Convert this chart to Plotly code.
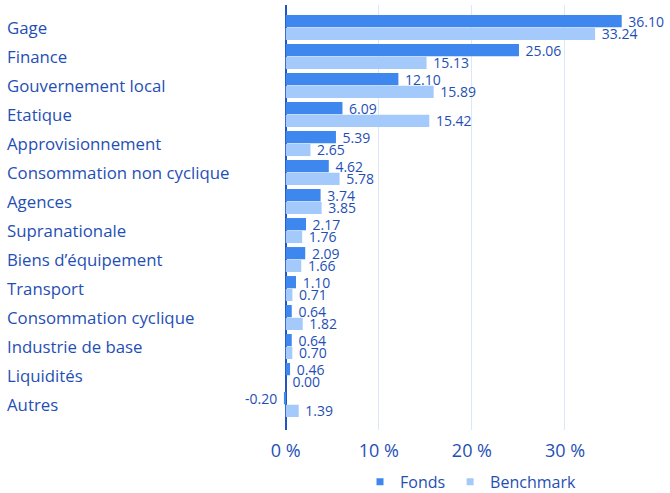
import plotly.graph_objects as go

categories = ["Gage", "Finance", "Gouvernement local", "Etatique", "Approvisionnement",
              "Consommation non cyclique", "Agences", "Supranationale", "Biens d’équipement",
              "Transport", "Consommation cyclique", "Industrie de base", "Liquidités", "Autres"]
fonds = [36.10, 25.06, 12.10, 6.09, 5.39, 4.62, 3.74, 2.17, 2.09, 1.10, 0.64, 0.64, 0.46, -0.20]
benchmark = [33.24, 15.13, 15.89, 15.42, 2.65, 5.78, 3.85, 1.76, 1.66, 0.71, 1.82, 0.70, 0.00, 1.39]
tick_vals = [0, 10, 20, 30]
tick_text = ["0 %", "10 %", "20 %", "30 %"]

TXT = "#1f4fb5"
FONT = "Open Sans"
C_FONDS = "#3d87ef"
C_BENCH = "#a4cafb"


def lbl(v):
    s = f"{v:.2f}"
    return s + "\u00a0" if v < 0 else "\u00a0" + s


fig = go.Figure()
fig.add_trace(go.Bar(y=categories, x=fonds, orientation="h", name="Fonds", showlegend=False,
                     marker=dict(color=C_FONDS, line=dict(width=0)),
                     text=[lbl(v) for v in fonds], textposition="outside",
                     constraintext="none",
                     textfont=dict(color=TXT, size=14, family=FONT), cliponaxis=False))
fig.add_trace(go.Bar(y=categories, x=benchmark, orientation="h", name="Benchmark", showlegend=False,
                     marker=dict(color=C_BENCH, line=dict(width=0)),
                     text=[lbl(v) for v in benchmark], textposition="outside",
                     constraintext="none",
                     textfont=dict(color=TXT, size=14, family=FONT), cliponaxis=False))
# legend entries
fig.add_trace(go.Scatter(x=[None], y=[None], mode="markers", name="Fonds",
                         marker=dict(symbol="square", size=7, color=C_FONDS)))
fig.add_trace(go.Scatter(x=[None], y=[None], mode="markers", name="Benchmark",
                         marker=dict(symbol="square", size=7, color=C_BENCH)))

for c in categories:
    fig.add_annotation(x=0, xref="paper", y=c, yref="y", text=c, showarrow=False,
                       xanchor="left", xshift=-278, font=dict(color=TXT, size=16.8, family=FONT))

fig.update_layout(
    width=670, height=493,
    margin=dict(l=283, r=12, t=5, b=63, autoexpand=False),
    plot_bgcolor="white", paper_bgcolor="white",
    barmode="group", bargap=0.12, bargroupgap=0.04,
    font=dict(family=FONT, color=TXT),
    xaxis=dict(range=[-0.3, 40], tickvals=tick_vals, ticktext=tick_text,
               showgrid=True, gridcolor="#dce8f8", gridwidth=1,
               zeroline=True, zerolinecolor="#2255c4", zerolinewidth=1.5,
               tickfont=dict(size=18, color=TXT, family=FONT), ticklen=0, ticks="",
               ticklabelstandoff=8),
    yaxis=dict(autorange=False, range=[13.88, -0.78], showticklabels=False,
               showgrid=False, zeroline=False),
    legend=dict(orientation="h", x=0.5, xanchor="center", y=-0.122, yref="paper",
                yanchor="middle", font=dict(size=16, color=TXT, family=FONT), itemwidth=30,
                traceorder="normal", tracegroupgap=0),
)
fig.write_html("out.html", config={"displayModeBar": False},
               post_script="document.body.style.margin='0';document.body.style.overflow='hidden';")
